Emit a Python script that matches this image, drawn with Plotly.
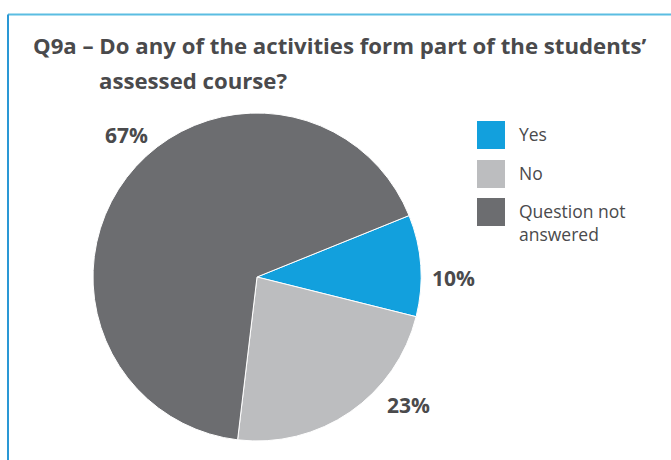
import plotly.graph_objects as go

# Survey responses
categories = ["Yes", "No", "Question not answered"]
values = [10, 23, 67]
colors = ["#12a0dd", "#bcbdbf", "#6c6d70"]

W, H = 671, 460
TEXT = "#4a4a4c"
FONT = "Open Sans"

def px(x):
    return x / W

def py(y):
    return 1 - y / H

fig = go.Figure(go.Pie(
    labels=categories,
    values=values,
    marker=dict(colors=colors, line=dict(color="white", width=1)),
    sort=False,
    direction="clockwise",
    rotation=68,
    textinfo="none",
    hoverinfo="label+percent",
    showlegend=False,
    domain=dict(x=[px(93), px(421)], y=[py(441), py(113)]),
))

annotations = []

def note(x, y, text, size, xanchor="left", bold=False):
    annotations.append(dict(x=px(x), y=py(y), xref="paper", yref="paper",
                            xanchor=xanchor, yanchor="middle", align="left",
                            text="<b>%s</b>" % text if bold else text,
                            showarrow=False, font=dict(family=FONT, size=size, color=TEXT)))

# Title with a hanging indent on the second line
note(31, 46, "Q9a – Do any of the activities form part of the students’", 22.2, bold=True)
note(97, 80, "assessed course?", 22.2, bold=True)

# Percentage labels outside the slices
label_pos = [(453, 278), (408, 405), (126, 135)]
total = sum(values)
for v, (lx, ly) in zip(values, label_pos):
    note(lx, ly, "%d%%" % round(100 * v / total), 21, xanchor="center", bold=True)

# Legend: large colour squares with labels
shapes = []
legend_rows = [135, 174, 212]
legend_text = ["Yes", "No", "Question not<br>answered"]
legend_text_y = [134, 173, 222]
for col, cy, txt, ty in zip(colors, legend_rows, legend_text, legend_text_y):
    shapes.append(dict(type="rect", xref="paper", yref="paper",
                       x0=px(477), x1=px(505), y0=py(cy + 14), y1=py(cy - 14),
                       fillcolor=col, line=dict(width=0)))
    note(517, ty, txt, 17.5)

# Frame lines
shapes.append(dict(type="line", xref="paper", yref="paper", x0=px(8), x1=1, y0=py(14.5), y1=py(14.5),
                   line=dict(color="#5bbde2", width=2)))
shapes.append(dict(type="line", xref="paper", yref="paper", x0=px(8), x1=px(8), y0=0, y1=py(14.5),
                   line=dict(color="#2a98d5", width=2)))

fig.update_layout(
    width=W, height=H,
    margin=dict(l=0, r=0, t=0, b=0),
    paper_bgcolor="white", plot_bgcolor="white",
    annotations=annotations, shapes=shapes,
)

fig.write_html("out.html")
